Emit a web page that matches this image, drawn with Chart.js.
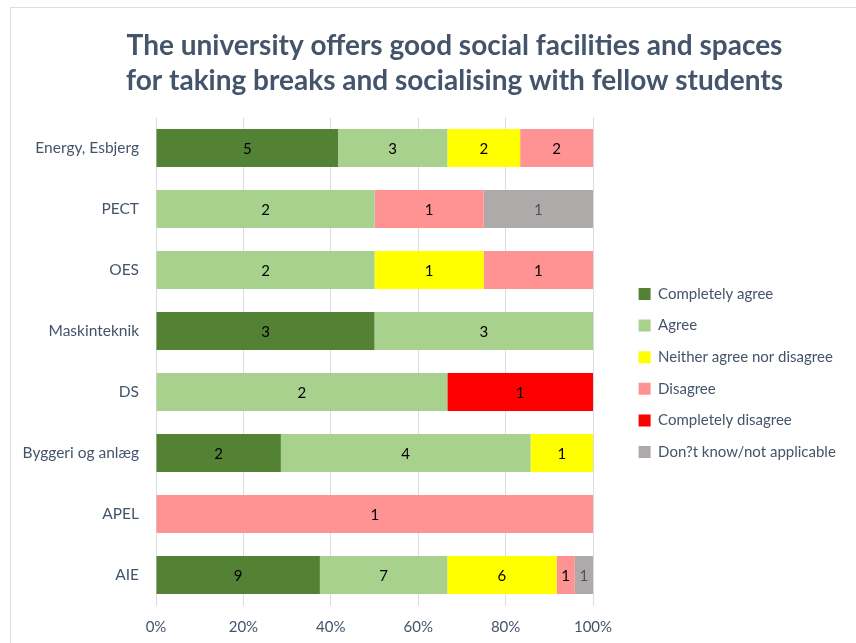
<!DOCTYPE html>
<html>
<head>
<meta charset="utf-8">
<script src="https://cdn.jsdelivr.net/npm/chart.js@4"></script>
<style>
  html, body { margin: 0; padding: 0; background: #fff; overflow: hidden; }
  body { width: 856px; height: 643px; position: relative; }
  #cut { position: absolute; left: 92px; top: -19px; font: 17px Lato, sans-serif; line-height: 20px; color: #000; white-space: nowrap; }
  #frame { position: absolute; left: 10px; top: 7px; width: 900px; height: 700px;
           border-left: 1px solid #d9dde5; border-top: 1px solid #d9dde5; }
  #wrap { position: absolute; left: 11px; top: 8px; width: 845px; height: 635px; }
</style>
</head>
<body>
<div id="cut">respectively g</div>
<div id="frame"></div>
<div id="wrap"><canvas id="surveyChart"></canvas></div>
<script>
const programmes = ['Energy, Esbjerg', 'PECT', 'OES', 'Maskinteknik', 'DS', 'Byggeri og anlæg', 'APEL', 'AIE'];

// answer counts per programme
const completelyAgree    = [5, 0, 0, 3, 0, 2, 0, 9];
const agree              = [3, 2, 2, 3, 2, 4, 0, 7];
const neither            = [2, 0, 1, 0, 0, 1, 0, 6];
const disagree           = [2, 1, 1, 0, 0, 0, 1, 1];
const completelyDisagree = [0, 0, 0, 0, 1, 0, 0, 0];
const dontKnow           = [0, 1, 0, 0, 0, 0, 0, 1];

const percentTicks = ['0%', '20%', '40%', '60%', '80%', '100%'];

const textColor = '#44546A';
const font = 'Lato';

const series = [
    { label: 'Completely agree', counts: completelyAgree, color: '#548235', textColor: '#000' },
    { label: 'Agree', counts: agree, color: '#A9D18E', textColor: '#000' },
    { label: 'Neither agree nor disagree', counts: neither, color: '#FFFF00', textColor: '#000' },
    { label: 'Disagree', counts: disagree, color: '#FF9393', textColor: '#000' },
    { label: 'Completely disagree', counts: completelyDisagree, color: '#FF0000', textColor: '#000' },
    { label: 'Don?t know/not applicable', counts: dontKnow, color: '#AEAAAA', textColor: textColor }
];

const totals = programmes.map((p, i) => series.reduce((s, d) => s + d.counts[i], 0));

// writes the count in the middle of every segment
const countLabels = {
    id: 'countLabels',
    afterDatasetsDraw(chart) {
        const ctx = chart.ctx;
        ctx.save();
        ctx.font = '15px ' + font;
        ctx.textAlign = 'center';
        ctx.textBaseline = 'middle';
        chart.data.datasets.forEach((ds, di) => {
            const meta = chart.getDatasetMeta(di);
            meta.data.forEach((bar, i) => {
                const n = ds.counts[i];
                if (!n) return;
                ctx.fillStyle = ds.countColor;
                ctx.fillText(n, (bar.x + bar.base) / 2, bar.y + 1);
            });
        });
        ctx.restore();
    }
};

// moves the legend away from the plot and centres the title like the original
const placeBlocks = {
    id: 'placeBlocks',
    afterLayout(chart) {
        const lg = chart.legend;
        lg.left = chart.chartArea.right + 29;
        lg.right = chart.width;
        lg.top += 47.5;
        lg.bottom += 47.5;
        chart.titleBlock.left = 0;
        chart.titleBlock.right = 887;
    }
};

new Chart(document.getElementById('surveyChart'), {
    type: 'bar',
    data: {
        labels: programmes,
        datasets: series.map(s => ({
            label: s.label,
            counts: s.counts,
            countColor: s.textColor,
            data: s.counts.map((c, i) => c / totals[i] * 100),
            backgroundColor: s.color,
            borderWidth: 0,
            barPercentage: 0.625,
            categoryPercentage: 1
        }))
    },
    options: {
        indexAxis: 'y',
        responsive: true,
        maintainAspectRatio: false,
        animation: false,
        layout: { padding: { left: 0, right: 63, top: 0, bottom: 0 } },
        scales: {
            x: {
                stacked: true,
                min: 0,
                max: 100,
                border: { display: false },
                grid: { color: '#D9DDE3', drawTicks: false },
                ticks: {
                    stepSize: 20,
                    padding: 13,
                    color: textColor,
                    font: { family: font, size: 15 },
                    callback: (v, i) => percentTicks[i]
                },
                afterFit: s => { s.height = 37.5; }
            },
            y: {
                stacked: true,
                border: { display: false },
                grid: { display: false, drawTicks: false },
                ticks: { padding: 17, color: textColor, font: { family: font, size: 15.5 } },
                afterFit: s => { s.width = 145; }
            }
        },
        plugins: {
            legend: {
                position: 'right',
                maxWidth: 200,
                labels: {
                    boxWidth: 12,
                    boxHeight: 12,
                    padding: 16.6,
                    color: textColor,
                    font: { family: font, size: 15 }
                }
            },
            title: {
                display: true,
                text: ['The university offers good social facilities and spaces', 'for taking breaks and socialising with fellow students'],
                color: textColor,
                font: { family: font, size: 28, weight: 'bold', lineHeight: 35 / 28 },
                padding: { top: 20.5, bottom: 19 }
            },
            tooltip: { enabled: false }
        }
    },
    plugins: [countLabels, placeBlocks]
});
</script>
</body>
</html>
